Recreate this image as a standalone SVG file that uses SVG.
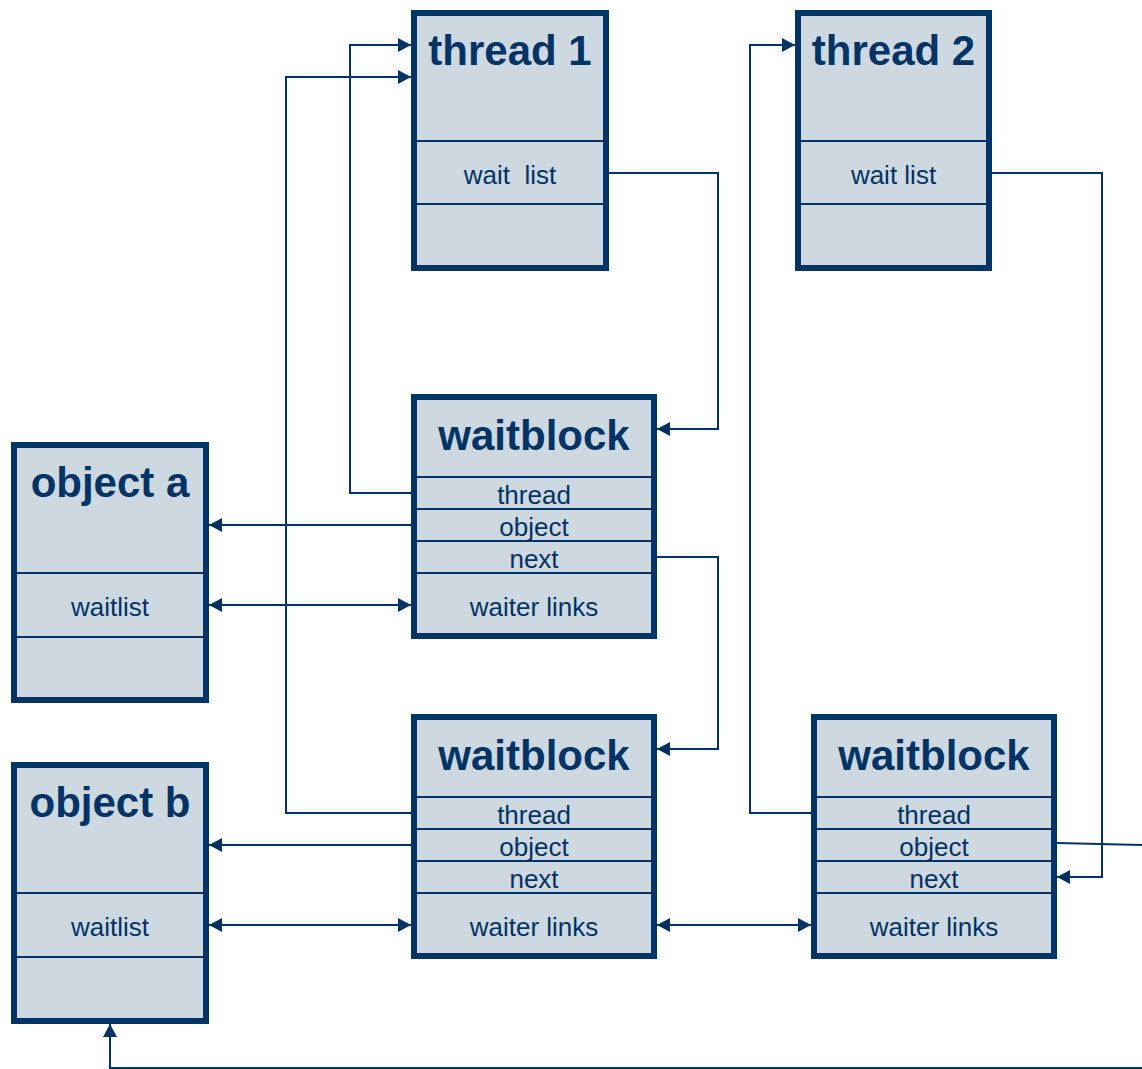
<svg xmlns="http://www.w3.org/2000/svg" width="1142" height="1069" viewBox="0 0 1142 1069">
<defs>
<style>
.box{fill:#CDD8E0;stroke:#003366;stroke-width:6}
.div{stroke:#003366;stroke-width:2}
.title{font-family:"Liberation Sans",Arial,sans-serif;font-weight:bold;font-size:42px;fill:#003366;text-anchor:middle}
.lbl{font-family:"Liberation Sans",Arial,sans-serif;font-size:26px;fill:#003366;text-anchor:middle}
.conn{fill:none;stroke:#003366;stroke-width:2}
</style>
<marker id="ah" viewBox="0 0 13 14" refX="13" refY="7" markerWidth="13" markerHeight="14" markerUnits="userSpaceOnUse" orient="auto-start-reverse">
<path d="M0,0 L13,7 L0,14 z" fill="#003366"/>
</marker>
</defs>
<rect width="1142" height="1069" fill="#ffffff"/>
<g id="connectors">
<path class="conn" d="M609,173 H718 V429 H657" marker-end="url(#ah)"/>
<path class="conn" d="M411,493 H350 V45 H411" marker-end="url(#ah)"/>
<path class="conn" d="M411,813 H286 V77 H411" marker-end="url(#ah)"/>
<path class="conn" d="M411,525 H209" marker-end="url(#ah)"/>
<path class="conn" d="M209,605 H411" marker-start="url(#ah)" marker-end="url(#ah)"/>
<path class="conn" d="M657,557 H718 V749 H657" marker-end="url(#ah)"/>
<path class="conn" d="M411,845 H209" marker-end="url(#ah)"/>
<path class="conn" d="M209,925 H411" marker-start="url(#ah)" marker-end="url(#ah)"/>
<path class="conn" d="M657,925 H811" marker-start="url(#ah)" marker-end="url(#ah)"/>
<path class="conn" d="M811,813 H750 V45 H795" marker-end="url(#ah)"/>
<path class="conn" d="M992,173 H1102 V877 H1057" marker-end="url(#ah)"/>
<path class="conn" d="M1057,843 L1142,845"/>
<path class="conn" d="M1142,1068 H110 V1024" marker-end="url(#ah)"/>
</g>
<g id="thread1">
<rect class="box" x="414" y="13" width="192" height="255"/>
<line class="div" x1="414" y1="141" x2="606" y2="141"/>
<line class="div" x1="414" y1="204" x2="606" y2="204"/>
<text class="title" x="510" y="65">thread 1</text>
<text class="lbl" x="510" y="184" style="white-space:pre" xml:space="preserve">wait  list</text>
</g>
<g id="thread2">
<rect class="box" x="798" y="13" width="191" height="255"/>
<line class="div" x1="798" y1="141" x2="989" y2="141"/>
<line class="div" x1="798" y1="204" x2="989" y2="204"/>
<text class="title" x="893.5" y="65">thread 2</text>
<text class="lbl" x="893.5" y="184">wait list</text>
</g>
<g id="objecta">
<rect class="box" x="14" y="445" width="192" height="255"/>
<line class="div" x1="14" y1="573" x2="206" y2="573"/>
<line class="div" x1="14" y1="637" x2="206" y2="637"/>
<text class="title" x="110" y="497">object a</text>
<text class="lbl" x="110" y="616">waitlist</text>
</g>
<g id="objectb">
<rect class="box" x="14" y="765" width="192" height="256"/>
<line class="div" x1="14" y1="893" x2="206" y2="893"/>
<line class="div" x1="14" y1="957" x2="206" y2="957"/>
<text class="title" x="110" y="817">object b</text>
<text class="lbl" x="110" y="936">waitlist</text>
</g>
<g id="waitblock1">
<rect class="box" x="414" y="397" width="240" height="239"/>
<line class="div" x1="414" y1="477" x2="654" y2="477"/>
<line class="div" x1="414" y1="509" x2="654" y2="509"/>
<line class="div" x1="414" y1="541" x2="654" y2="541"/>
<line class="div" x1="414" y1="573" x2="654" y2="573"/>
<text class="title" x="534" y="450">waitblock</text>
<text class="lbl" x="534" y="504">thread</text>
<text class="lbl" x="534" y="536">object</text>
<text class="lbl" x="534" y="568">next</text>
<text class="lbl" x="534" y="616">waiter links</text>
</g>
<g id="waitblock2">
<rect class="box" x="414" y="717" width="240" height="239"/>
<line class="div" x1="414" y1="797" x2="654" y2="797"/>
<line class="div" x1="414" y1="829" x2="654" y2="829"/>
<line class="div" x1="414" y1="861" x2="654" y2="861"/>
<line class="div" x1="414" y1="893" x2="654" y2="893"/>
<text class="title" x="534" y="770">waitblock</text>
<text class="lbl" x="534" y="824">thread</text>
<text class="lbl" x="534" y="856">object</text>
<text class="lbl" x="534" y="888">next</text>
<text class="lbl" x="534" y="936">waiter links</text>
</g>
<g id="waitblock3">
<rect class="box" x="814" y="717" width="240" height="239"/>
<line class="div" x1="814" y1="797" x2="1054" y2="797"/>
<line class="div" x1="814" y1="829" x2="1054" y2="829"/>
<line class="div" x1="814" y1="861" x2="1054" y2="861"/>
<line class="div" x1="814" y1="893" x2="1054" y2="893"/>
<text class="title" x="934" y="770">waitblock</text>
<text class="lbl" x="934" y="824">thread</text>
<text class="lbl" x="934" y="856">object</text>
<text class="lbl" x="934" y="888">next</text>
<text class="lbl" x="934" y="936">waiter links</text>
</g>
</svg>
